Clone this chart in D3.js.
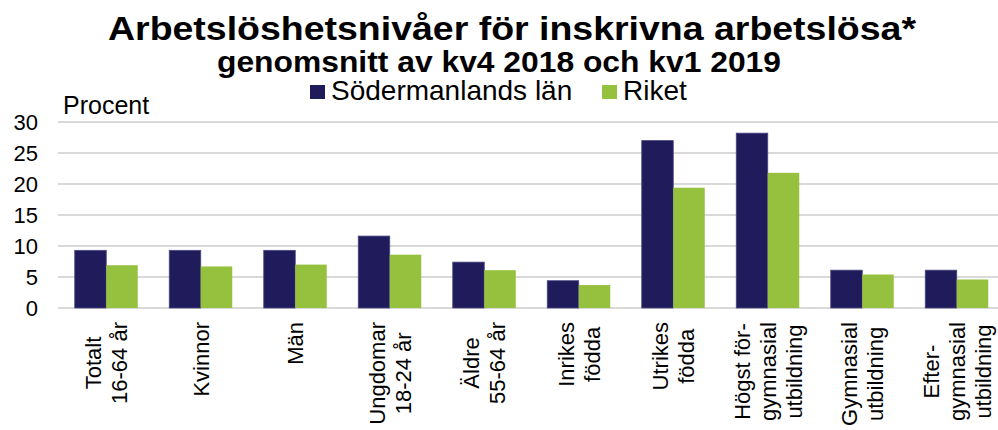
<!DOCTYPE html>
<html>
<head>
<meta charset="utf-8">
<script src="https://cdn.jsdelivr.net/npm/d3@7"></script>
<style>
  body { margin: 0; background: #fff; }
  text { font-family: "Liberation Sans", Arial, sans-serif; fill: #000; }
</style>
</head>
<body>
<script>
// data
var categories = [
  ["Totalt", "16-64 år"],
  ["Kvinnor"],
  ["Män"],
  ["Ungdomar", "18-24 år"],
  ["Äldre", "55-64 år"],
  ["Inrikes", "födda"],
  ["Utrikes", "födda"],
  ["Högst för-", "gymnasial", "utbildning"],
  ["Gymnasial", "utbildning"],
  ["Efter-", "gymnasial", "utbildning"]
];
var sodermanland = [9.3, 9.3, 9.3, 11.6, 7.4, 4.4, 27.0, 28.2, 6.1, 6.1];
var riket = [6.9, 6.7, 7.0, 8.6, 6.1, 3.7, 19.4, 21.8, 5.4, 4.6];
var seriesNames = ["Södermanlands län", "Riket"];
var yTicks = [0, 5, 10, 15, 20, 25, 30];

var width = 998,
    height = 430,
    plotLeft = 58,
    plotRight = 1004,   // plot runs a little past the picture edge
    plotTop = 122,
    plotBottom = 308,
    navy = "#201c5c",
    green = "#96c13e";

var svg = d3.select("body")
    .append("svg")
    .attr("width", width)
    .attr("height", height);

var x = d3.scaleBand()
    .domain(d3.range(categories.length))
    .range([plotLeft + 1, plotRight])
    .paddingInner(0)
    .paddingOuter(0);

// two bars per category, half a bar of gap on each side
var x1 = d3.scaleBand()
    .domain([0, 1])
    .range([0, x.bandwidth()])
    .paddingOuter(0.5)
    .paddingInner(0);

var y = d3.scaleLinear()
    .domain([0, 30])
    .range([plotBottom, plotTop]);

// gridlines
svg.selectAll("line.grid")
    .data(yTicks)
    .enter()
    .append("line")
    .attr("class", "grid")
    .attr("x1", plotLeft)
    .attr("x2", width)
    .attr("y1", function(d) { return y(d); })
    .attr("y2", function(d) { return y(d); })
    .attr("stroke", "#d9d9d9")
    .attr("stroke-width", 2);

// y labels
svg.selectAll("text.ytick")
    .data(yTicks)
    .enter()
    .append("text")
    .attr("class", "ytick")
    .attr("x", 38)
    .attr("y", function(d) { return y(d) + 8; })
    .attr("text-anchor", "end")
    .attr("font-size", "22px")
    .text(function(d) { return d; });

svg.append("text")
    .attr("x", 63)
    .attr("y", 114)
    .attr("font-size", "25px")
    .text("Procent");

// bars
var series = [sodermanland, riket];
var colors = [navy, green];

series.forEach(function(values, s) {
    svg.selectAll("rect.s" + s)
        .data(values)
        .enter()
        .append("rect")
        .attr("class", "s" + s)
        .attr("x", function(d, i) { return x(i) + x1(s); })
        .attr("y", function(d) { return y(d); })
        .attr("width", x1.bandwidth())
        .attr("height", function(d) { return y(0) - y(d); })
        .attr("fill", colors[s])
        .attr("stroke", s === 0 ? "#4a4780" : "none")
        .attr("stroke-width", 0.8);
});

// x labels, rotated
var lineGap = 26;
categories.forEach(function(lines, i) {
    var g = svg.append("g");
    var texts = g.selectAll("text")
        .data(lines)
        .enter()
        .append("text")
        .attr("font-size", "22px")
        .attr("text-anchor", "middle")
        .text(function(d) { return d; });
    var maxLen = d3.max(texts.nodes(), function(n) { return n.getComputedTextLength(); });
    var cx = x(i) + x.bandwidth() / 2;
    var cy = 322 + maxLen / 2;
    texts.attr("transform", function(d, j) {
        var bx = cx + (j - (lines.length - 1) / 2) * lineGap + 8;
        return "translate(" + bx + "," + cy + ") rotate(-90)";
    });
});

// title
svg.append("text")
    .attr("x", 512)
    .attr("y", 40)
    .attr("text-anchor", "middle")
    .attr("font-size", "33px")
    .attr("font-weight", "bold")
    .attr("textLength", 808)
    .attr("lengthAdjust", "spacingAndGlyphs")
    .text("Arbetslöshetsnivåer för inskrivna arbetslösa*");

svg.append("text")
    .attr("x", 499)
    .attr("y", 72)
    .attr("text-anchor", "middle")
    .attr("font-size", "29px")
    .attr("font-weight", "bold")
    .attr("textLength", 564)
    .attr("lengthAdjust", "spacingAndGlyphs")
    .text("genomsnitt av kv4 2018 och kv1 2019");

// legend
var legendX = [310, 602];
seriesNames.forEach(function(name, s) {
    svg.append("rect")
        .attr("x", legendX[s])
        .attr("y", 85)
        .attr("width", 15)
        .attr("height", 14)
        .attr("fill", colors[s]);
    svg.append("text")
        .attr("x", legendX[s] + 21)
        .attr("y", 100)
        .attr("font-size", "28px")
        .text(name);
});
</script>
</body>
</html>
